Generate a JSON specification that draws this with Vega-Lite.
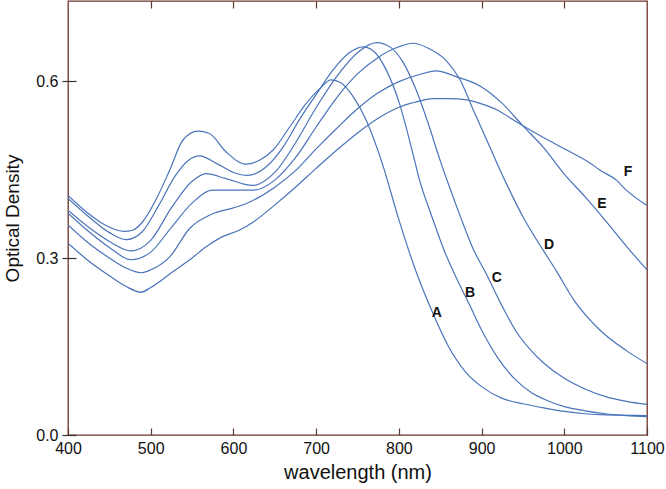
{
  "$schema": "https://vega.github.io/schema/vega-lite/v6.json",
  "width": 579,
  "height": 434,
  "autosize": {"type": "none"},
  "padding": {"left": 68, "top": 1, "right": 19, "bottom": 54},
  "background": "white",
  "config": {
    "font": "Liberation Sans",
    "view": {"stroke": "#6a3328", "strokeWidth": 1.3},
    "axis": {"grid": false, "labelFont": "Liberation Sans", "titleFont": "Liberation Sans", "labelColor": "#111", "titleColor": "#111", "titleFontWeight": "normal"}
  },
  "datasets": {
    "curves": [
      {"s":"A","nm":400,"od":0.406},{"s":"A","nm":425,"od":0.375},{"s":"A","nm":446,"od":0.355},{"s":"A","nm":468,"od":0.345},{"s":"A","nm":478,"od":0.347},{"s":"A","nm":490,"od":0.361},{"s":"A","nm":506,"od":0.398},{"s":"A","nm":523,"od":0.449},{"s":"A","nm":539,"od":0.5},{"s":"A","nm":557,"od":0.515},{"s":"A","nm":571,"od":0.511},{"s":"A","nm":591,"od":0.48},{"s":"A","nm":615,"od":0.459},{"s":"A","nm":632,"od":0.466},{"s":"A","nm":648,"od":0.483},{"s":"A","nm":668,"od":0.522},{"s":"A","nm":688,"od":0.562},{"s":"A","nm":705,"od":0.588},{"s":"A","nm":718,"od":0.602},{"s":"A","nm":730,"od":0.597},{"s":"A","nm":745,"od":0.573},{"s":"A","nm":760,"od":0.535},{"s":"A","nm":780,"od":0.46},{"s":"A","nm":800,"od":0.365},{"s":"A","nm":820,"od":0.28},{"s":"A","nm":840,"od":0.21},{"s":"A","nm":860,"od":0.15},{"s":"A","nm":880,"od":0.108},{"s":"A","nm":900,"od":0.082},{"s":"A","nm":925,"od":0.062},{"s":"A","nm":950,"od":0.053},{"s":"A","nm":975,"od":0.046},{"s":"A","nm":1000,"od":0.04},{"s":"A","nm":1025,"od":0.036},{"s":"A","nm":1050,"od":0.034},{"s":"A","nm":1100,"od":0.033},
      {"s":"B","nm":400,"od":0.401},{"s":"B","nm":425,"od":0.37},{"s":"B","nm":450,"od":0.343},{"s":"B","nm":470,"od":0.331},{"s":"B","nm":490,"od":0.345},{"s":"B","nm":510,"od":0.39},{"s":"B","nm":530,"od":0.44},{"s":"B","nm":545,"od":0.465},{"s":"B","nm":559,"od":0.473},{"s":"B","nm":580,"od":0.46},{"s":"B","nm":600,"od":0.445},{"s":"B","nm":617,"od":0.44},{"s":"B","nm":640,"od":0.455},{"s":"B","nm":660,"od":0.488},{"s":"B","nm":680,"od":0.535},{"s":"B","nm":700,"od":0.577},{"s":"B","nm":720,"od":0.618},{"s":"B","nm":740,"od":0.648},{"s":"B","nm":757,"od":0.658},{"s":"B","nm":770,"od":0.65},{"s":"B","nm":785,"od":0.618},{"s":"B","nm":800,"od":0.565},{"s":"B","nm":815,"od":0.488},{"s":"B","nm":825,"od":0.432},{"s":"B","nm":840,"od":0.37},{"s":"B","nm":855,"od":0.312},{"s":"B","nm":870,"od":0.265},{"s":"B","nm":885,"od":0.222},{"s":"B","nm":900,"od":0.178},{"s":"B","nm":920,"od":0.13},{"s":"B","nm":940,"od":0.095},{"s":"B","nm":960,"od":0.072},{"s":"B","nm":980,"od":0.058},{"s":"B","nm":1000,"od":0.048},{"s":"B","nm":1025,"od":0.041},{"s":"B","nm":1050,"od":0.036},{"s":"B","nm":1075,"od":0.033},{"s":"B","nm":1100,"od":0.031},
      {"s":"C","nm":400,"od":0.381},{"s":"C","nm":425,"od":0.352},{"s":"C","nm":450,"od":0.328},{"s":"C","nm":476,"od":0.312},{"s":"C","nm":500,"od":0.33},{"s":"C","nm":525,"od":0.385},{"s":"C","nm":550,"od":0.43},{"s":"C","nm":567,"od":0.443},{"s":"C","nm":590,"od":0.435},{"s":"C","nm":623,"od":0.423},{"s":"C","nm":650,"od":0.445},{"s":"C","nm":675,"od":0.495},{"s":"C","nm":700,"od":0.555},{"s":"C","nm":725,"od":0.608},{"s":"C","nm":750,"od":0.648},{"s":"C","nm":773,"od":0.665},{"s":"C","nm":790,"od":0.657},{"s":"C","nm":805,"od":0.632},{"s":"C","nm":820,"od":0.588},{"s":"C","nm":835,"od":0.53},{"s":"C","nm":850,"od":0.465},{"s":"C","nm":860,"od":0.425},{"s":"C","nm":875,"od":0.368},{"s":"C","nm":890,"od":0.315},{"s":"C","nm":905,"od":0.275},{"s":"C","nm":925,"od":0.218},{"s":"C","nm":942,"od":0.175},{"s":"C","nm":960,"od":0.143},{"s":"C","nm":975,"od":0.122},{"s":"C","nm":1000,"od":0.096},{"s":"C","nm":1025,"od":0.078},{"s":"C","nm":1050,"od":0.065},{"s":"C","nm":1075,"od":0.057},{"s":"C","nm":1100,"od":0.052},
      {"s":"D","nm":400,"od":0.376},{"s":"D","nm":425,"od":0.345},{"s":"D","nm":450,"od":0.318},{"s":"D","nm":476,"od":0.297},{"s":"D","nm":500,"od":0.31},{"s":"D","nm":525,"od":0.352},{"s":"D","nm":550,"od":0.393},{"s":"D","nm":575,"od":0.415},{"s":"D","nm":600,"od":0.415},{"s":"D","nm":625,"od":0.415},{"s":"D","nm":650,"od":0.432},{"s":"D","nm":675,"od":0.47},{"s":"D","nm":700,"od":0.522},{"s":"D","nm":725,"od":0.572},{"s":"D","nm":750,"od":0.612},{"s":"D","nm":775,"od":0.64},{"s":"D","nm":800,"od":0.658},{"s":"D","nm":817,"od":0.664},{"s":"D","nm":835,"od":0.656},{"s":"D","nm":857,"od":0.635},{"s":"D","nm":874,"od":0.602},{"s":"D","nm":890,"od":0.551},{"s":"D","nm":910,"od":0.488},{"s":"D","nm":928,"od":0.432},{"s":"D","nm":950,"od":0.37},{"s":"D","nm":975,"od":0.312},{"s":"D","nm":990,"od":0.279},{"s":"D","nm":1011,"od":0.23},{"s":"D","nm":1043,"od":0.178},{"s":"D","nm":1075,"od":0.143},{"s":"D","nm":1100,"od":0.121},
      {"s":"E","nm":400,"od":0.356},{"s":"E","nm":425,"od":0.325},{"s":"E","nm":450,"od":0.3},{"s":"E","nm":470,"od":0.283},{"s":"E","nm":488,"od":0.275},{"s":"E","nm":500,"od":0.28},{"s":"E","nm":523,"od":0.302},{"s":"E","nm":547,"od":0.35},{"s":"E","nm":575,"od":0.375},{"s":"E","nm":600,"od":0.385},{"s":"E","nm":615,"od":0.392},{"s":"E","nm":650,"od":0.42},{"s":"E","nm":675,"od":0.448},{"s":"E","nm":700,"od":0.485},{"s":"E","nm":725,"od":0.52},{"s":"E","nm":750,"od":0.553},{"s":"E","nm":775,"od":0.58},{"s":"E","nm":800,"od":0.599},{"s":"E","nm":825,"od":0.611},{"s":"E","nm":845,"od":0.617},{"s":"E","nm":870,"od":0.607},{"s":"E","nm":900,"od":0.59},{"s":"E","nm":925,"od":0.562},{"s":"E","nm":950,"od":0.524},{"s":"E","nm":975,"od":0.487},{"s":"E","nm":1000,"od":0.442},{"s":"E","nm":1025,"od":0.404},{"s":"E","nm":1050,"od":0.363},{"s":"E","nm":1075,"od":0.32},{"s":"E","nm":1100,"od":0.28},
      {"s":"F","nm":400,"od":0.325},{"s":"F","nm":425,"od":0.295},{"s":"F","nm":450,"od":0.27},{"s":"F","nm":470,"od":0.252},{"s":"F","nm":488,"od":0.242},{"s":"F","nm":500,"od":0.25},{"s":"F","nm":525,"od":0.275},{"s":"F","nm":550,"od":0.3},{"s":"F","nm":567,"od":0.319},{"s":"F","nm":585,"od":0.335},{"s":"F","nm":607,"od":0.347},{"s":"F","nm":625,"od":0.362},{"s":"F","nm":650,"od":0.39},{"s":"F","nm":675,"od":0.42},{"s":"F","nm":700,"od":0.452},{"s":"F","nm":725,"od":0.483},{"s":"F","nm":750,"od":0.512},{"s":"F","nm":775,"od":0.537},{"s":"F","nm":801,"od":0.556},{"s":"F","nm":825,"od":0.566},{"s":"F","nm":841,"od":0.57},{"s":"F","nm":860,"od":0.57},{"s":"F","nm":882,"od":0.568},{"s":"F","nm":898,"od":0.562},{"s":"F","nm":920,"od":0.55},{"s":"F","nm":942,"od":0.531},{"s":"F","nm":970,"od":0.508},{"s":"F","nm":1003,"od":0.483},{"s":"F","nm":1030,"od":0.462},{"s":"F","nm":1043,"od":0.449},{"s":"F","nm":1063,"od":0.432},{"s":"F","nm":1075,"od":0.415},{"s":"F","nm":1100,"od":0.389}
    ],
    "labels": [
      {"s":"A","nm":846,"od":0.2075},
      {"s":"B","nm":886,"od":0.24},
      {"s":"C","nm":918.5,"od":0.2655},
      {"s":"D","nm":981.5,"od":0.322},
      {"s":"E","nm":1045.5,"od":0.391},
      {"s":"F","nm":1077,"od":0.446}
    ]
  },
  "resolve": {"axis": {"x": "independent", "y": "independent"}},
  "layer": [
    {
      "data": {"name": "curves"},
      "mark": {"type": "line", "interpolate": "monotone", "strokeWidth": 1.2, "color": "#4a74ba", "clip": true},
      "encoding": {
        "x": {"field": "nm", "type": "quantitative", "scale": {"domain": [400, 1100], "nice": false, "zero": false},
          "axis": {"orient": "bottom", "title": "wavelength (nm)", "values": [400,500,600,700,800,900,1000,1100], "format": "d", "offset": -7, "tickSize": 7, "tickColor": "#5a3a30", "tickWidth": 1.2, "domain": false, "labelFontSize": 16, "labelPadding": 5, "titleFontSize": 20, "titleY": 44, "titleBaseline": "middle", "labelFlush": false}},
        "y": {"field": "od", "type": "quantitative", "scale": {"domain": [0, 0.7356], "nice": false},
          "axis": {"orient": "left", "title": "Optical Density", "values": [0, 0.3, 0.6], "format": ".1f", "offset": -8, "tickSize": 14, "tickColor": "#3a3030", "tickWidth": 1.2, "domain": false, "labelFontSize": 16, "labelPadding": 4, "titleFontSize": 19, "titleX": -64, "titleY": 217, "titleAlign": "center", "titleBaseline": "middle", "titleAngle": -90, "labelFlush": false}},
        "detail": {"field": "s", "type": "nominal"}
      }
    },
    {
      "data": {"name": "labels"},
      "mark": {"type": "text", "fontSize": 14, "fontWeight": "bold", "color": "#111", "align": "center", "baseline": "middle"},
      "encoding": {
        "x": {"field": "nm", "type": "quantitative",
          "axis": {"orient": "top", "title": null, "labels": false, "values": [500,600,700,800,900,1000], "offset": -7, "tickSize": 7, "tickColor": "#5a3a30", "tickWidth": 1.2, "domain": false}},
        "y": {"field": "od", "type": "quantitative", "axis": null},
        "text": {"field": "s", "type": "nominal"}
      }
    }
  ]
}
